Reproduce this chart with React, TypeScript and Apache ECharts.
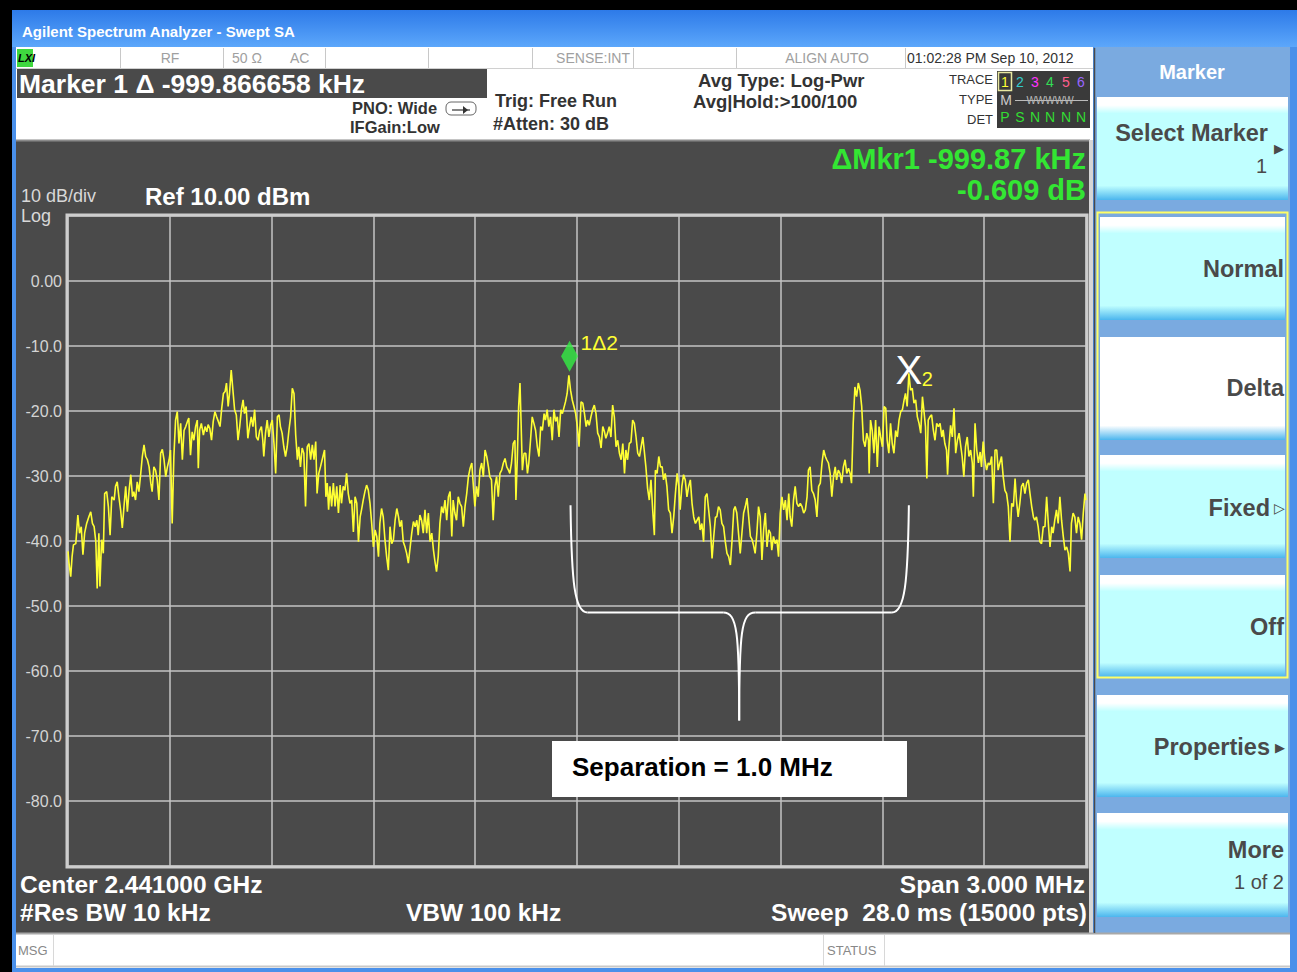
import React, { useEffect, useRef } from "react";
import * as echarts from "echarts";

// ---- data (frequency offset from start in kHz, level in dBm) ----
const SPAN_KHZ = 3000;
const DIV_KHZ = 300;
const REF_DBM = 10;
const BOTTOM_DBM = -90;
const DB_PER_DIV = 10;

const TRACE_A: [number, number][] = [[0,-41.6],[3,-43.4],[8,-45.5],[12,-42.4],[16,-40.6],[23,-40.4],[29,-36],[34,-38.8],[39,-37.8],[44,-42.1],[49,-38.8],[55,-37.3],[62,-36.2],[67,-35.5],[72,-37.3],[77,-37.8],[82,-40.1],[86,-47.3],[91,-38.8],[94,-47],[99,-39.8],[104,-41.9],[108,-32.7],[114,-32.4],[119,-34.7],[124,-39.1],[129,-33.2],[136,-33.7],[140,-31.6],[145,-30.9],[150,-33.2],[155,-35.2],[160,-38],[165,-34.7],[170,-31.6],[175,-35.5],[180,-32.2],[185,-29.8],[190,-33.2],[194,-32.4],[199,-33.7],[204,-30.9],[209,-32.4],[214,-29.8],[219,-27],[224,-25.2],[229,-27],[234,-27.5],[239,-28.6],[244,-31.1],[248,-32.4],[253,-28.6],[258,-29.1],[263,-30.6],[268,-33.7],[273,-26.5],[278,-25.9],[283,-27.5],[288,-30.1],[293,-28.6],[298,-27.5],[302,-26],[307,-37.3],[312,-27],[317,-21.4],[322,-20.1],[327,-25],[332,-21.9],[337,-27.5],[342,-23],[347,-22.4],[352,-21.6],[356,-21.1],[361,-26.8],[366,-23.2],[371,-24.5],[376,-22.4],[381,-21.4],[384,-28.8],[388,-22.9],[393,-21.9],[399,-23.7],[404,-22.4],[409,-23.2],[413,-22.1],[418,-22.7],[423,-24.5],[428,-21.6],[433,-20.1],[438,-20.9],[443,-21.6],[448,-22.4],[453,-19.6],[458,-17.3],[463,-17],[467,-15.7],[472,-19.3],[476,-17.3],[481,-13.7],[486,-16.8],[491,-19.8],[496,-20.6],[501,-24.5],[506,-22.4],[511,-19.8],[516,-18.3],[520,-20.4],[525,-19.3],[530,-24.2],[535,-22.4],[540,-20.9],[545,-22.4],[550,-19.8],[555,-24],[560,-24.5],[565,-23],[570,-22.4],[574,-24.5],[577,-27],[582,-23.4],[587,-21.4],[592,-24],[597,-22.2],[602,-21.4],[607,-25],[612,-29.6],[617,-20.9],[622,-20.6],[626,-22.4],[631,-23.4],[636,-25.5],[641,-27],[646,-25.5],[651,-23],[656,-20.9],[661,-16.5],[666,-17.3],[671,-23.7],[676,-27.5],[680,-25.5],[685,-28.6],[690,-25.7],[695,-26.5],[700,-34.7],[705,-25.5],[710,-25],[715,-27.5],[720,-25.2],[725,-27.5],[730,-24.7],[734,-32.7],[739,-29.6],[744,-28.6],[749,-27.5]];

const TRACE_B: [number, number][] = [[756,-26],[760,-33.2],[764,-31.1],[768,-35.2],[772,-31.6],[777,-34.7],[782,-31.1],[787,-34.7],[792,-31.6],[797,-35.7],[802,-31.4],[806,-34.2],[811,-31.6],[816,-32.2],[821,-29.6],[826,-32.7],[831,-34.2],[836,-33.7],[841,-38.6],[846,-33.2],[851,-34.2],[856,-40.1],[861,-36.3],[865,-35.2],[870,-33.7],[875,-32.4],[880,-31.4],[885,-32.2],[890,-34.2],[895,-37.3],[900,-40.9],[905,-38.3],[910,-39.3],[915,-42.4],[919,-37.3],[924,-35],[929,-36.3],[934,-39.8],[939,-42.4],[944,-44.5],[949,-37.8],[954,-40.4],[959,-39.8],[964,-36.8],[969,-35],[974,-36.3],[978,-37.8],[983,-36.8],[988,-40.1],[993,-40.9],[998,-41.9],[1003,-43.4],[1008,-41.1],[1013,-38.8],[1018,-37],[1023,-37.8],[1028,-36.8],[1032,-39.1],[1037,-36],[1042,-36.8],[1047,-38.8],[1052,-35.2],[1057,-38.8],[1062,-35.7],[1067,-40.1],[1072,-38.8],[1077,-41.4],[1081,-43],[1086,-44.7],[1091,-42.4],[1096,-37.3],[1101,-34.7],[1106,-35.7],[1111,-33.7],[1116,-36.8],[1121,-33.2],[1126,-32.4],[1131,-39.3],[1135,-33.7],[1140,-35.7],[1145,-36.8],[1150,-33.2],[1155,-34.2],[1160,-34.7],[1165,-37.8],[1170,-34.7],[1175,-32.7],[1180,-30.1],[1185,-28.8],[1190,-28],[1194,-31.1],[1199,-34.7],[1204,-31.6],[1209,-33.2],[1214,-29.1],[1219,-28],[1224,-30.1],[1229,-26],[1234,-27],[1239,-28.6],[1243,-30.1],[1248,-30.6],[1253,-36.8],[1258,-31.6],[1263,-30.1],[1268,-33.2],[1273,-29.6],[1278,-29.1],[1283,-28],[1288,-27.3],[1293,-28.6],[1298,-29.1],[1302,-29.6],[1307,-28],[1312,-25],[1317,-24.5],[1320,-33.7],[1324,-27.5],[1328,-19.3],[1332,-15.7],[1335,-21.4],[1339,-29.1],[1344,-26.5],[1349,-26.5],[1354,-29.6],[1358,-28],[1363,-24.5],[1368,-20.9],[1373,-21.9],[1378,-23],[1383,-25.5],[1388,-27],[1393,-22.4],[1398,-23],[1403,-20.4],[1407,-21.4],[1412,-19.8],[1417,-22.4],[1422,-20.9],[1427,-24.5],[1432,-19.8],[1437,-21.6],[1442,-20.9],[1447,-24],[1452,-19.8],[1457,-20.4],[1461,-19.6],[1466,-18.6],[1471,-17.3],[1476,-14.5],[1481,-16.8],[1486,-18.3],[1491,-19.3],[1496,-20.4],[1501,-22.4],[1506,-25.5]];

const TRACE_C: [number, number][] = [[1512,-18.6],[1517,-18.8],[1522,-20.4],[1527,-22.4],[1531,-21.4],[1536,-22.2],[1541,-20.9],[1546,-19.8],[1551,-19.1],[1556,-20.4],[1561,-23.4],[1566,-24],[1571,-25.7],[1576,-22.4],[1581,-23.2],[1585,-24.2],[1590,-23.4],[1595,-22.4],[1600,-24],[1605,-19.1],[1610,-20.9],[1615,-25.5],[1620,-24.5],[1625,-26.5],[1630,-27.5],[1635,-25],[1640,-29.6],[1644,-26],[1649,-27.5],[1654,-25],[1659,-24.8],[1664,-21.4],[1669,-21.9],[1674,-24],[1679,-26.5],[1684,-27],[1689,-25.5],[1694,-24],[1698,-26],[1703,-28.6],[1708,-31.9],[1713,-33.7],[1718,-30.6],[1723,-35.2],[1728,-39.1],[1731,-29.1],[1736,-29.6],[1741,-27],[1746,-28.6],[1751,-28.6],[1755,-30.6],[1760,-29.6],[1765,-31.6],[1770,-35.2],[1775,-35.7],[1780,-38.8],[1785,-36.3],[1790,-32.7],[1795,-29.6],[1800,-31.6],[1804,-35.2],[1809,-31.6],[1814,-29.8],[1819,-30.6],[1824,-33.2],[1829,-31.6],[1834,-30.6],[1839,-34.2],[1844,-36.3],[1849,-37.3],[1854,-36.8],[1859,-36.3],[1863,-38.3],[1868,-37.3],[1873,-40.1],[1878,-33.2],[1883,-32.7],[1888,-35.2],[1893,-37.8],[1898,-42.7],[1903,-39.3],[1908,-36.3],[1912,-36.3],[1917,-34.7],[1922,-35.2],[1927,-37.3],[1932,-37.8],[1937,-40.1],[1942,-41.9],[1947,-42.4],[1952,-43.7],[1957,-39.8],[1962,-35.2],[1966,-34.7],[1971,-35.7],[1976,-38.8],[1981,-41.9],[1986,-38.8],[1991,-35.7],[1996,-34.7],[2001,-33.4],[2006,-36.3],[2011,-39.3],[2016,-39.8],[2020,-40.6],[2025,-41.9],[2030,-38.8],[2035,-34.7],[2040,-36.3],[2045,-42.9],[2050,-38.3],[2055,-35.7],[2060,-40.9],[2065,-38.3],[2070,-38.8],[2074,-41.4],[2079,-39.3],[2084,-40.4],[2089,-39.8],[2094,-42.4],[2099,-35.7],[2104,-33.2],[2109,-35.2],[2114,-33.7],[2119,-36.8],[2124,-32.7],[2128,-36.3],[2133,-37.8],[2138,-33.7],[2143,-31.6],[2148,-34.2],[2153,-34.7],[2158,-34.2],[2163,-34.7],[2168,-35.7],[2173,-35.2],[2178,-33.2],[2182,-29.1],[2187,-28.6],[2192,-32.2],[2197,-32.7],[2202,-33.7],[2207,-36.3],[2212,-31.6],[2217,-31.1],[2222,-28],[2227,-26],[2232,-27],[2236,-27.5],[2241,-28],[2246,-29.6],[2251,-33.2],[2256,-30.1],[2261,-28.6]];

const TRACE_D: [number, number][] = [[2265,-30.6],[2270,-29.1],[2275,-29.6],[2280,-31.1],[2285,-28.6],[2290,-27.5],[2295,-29.6],[2300,-28.8],[2305,-29.6],[2309,-31.1],[2314,-21.9],[2319,-16.3],[2324,-17.8],[2329,-15.7],[2334,-16.8],[2339,-19.3],[2344,-24.5],[2349,-25.5],[2354,-23.4],[2359,-24.5],[2361,-29.6],[2365,-21.4],[2370,-23],[2375,-26.5],[2380,-21.4],[2385,-28.6],[2390,-22.4],[2395,-24],[2400,-25.5],[2405,-19.3],[2410,-19.6],[2414,-24.5],[2419,-26.5],[2424,-21.9],[2429,-25],[2434,-26.5],[2439,-23],[2444,-24],[2449,-21.4],[2454,-20.1],[2459,-19.8],[2464,-18.3],[2468,-17.3],[2473,-19.3],[2478,-14.2],[2483,-16.8],[2488,-16.5],[2493,-18.8],[2498,-18.3],[2503,-20.9],[2508,-21.9],[2513,-23.4],[2518,-17.8],[2522,-19.8],[2527,-22.4],[2531,-30.4],[2535,-21.4],[2540,-20.9],[2545,-20.6],[2550,-22.9],[2555,-24.5],[2560,-21.9],[2565,-22.4],[2570,-21.9],[2575,-24],[2579,-22.9],[2584,-25],[2589,-26],[2592,-29.8],[2596,-25.5],[2601,-22.2],[2606,-24],[2611,-19.6],[2616,-26.5],[2621,-24.5],[2626,-23.4],[2630,-25],[2635,-27],[2640,-30.1],[2645,-25.5],[2650,-24],[2655,-27],[2660,-26],[2665,-28],[2668,-33.2],[2673,-21.9],[2678,-26],[2683,-28],[2688,-26.3],[2692,-28.6],[2697,-24.7],[2702,-27.5],[2707,-29.1],[2712,-28],[2717,-28.3],[2722,-27],[2727,-34.2],[2732,-26],[2737,-26],[2741,-29.1],[2746,-28],[2751,-27],[2756,-30.1],[2761,-32.2],[2766,-32.7],[2771,-34.7],[2776,-40.1],[2781,-34.2],[2786,-34.7],[2791,-30.4],[2795,-33.7],[2800,-36.3],[2805,-34.2],[2810,-31.6],[2815,-31.1],[2820,-32.7],[2825,-31.1],[2830,-30.6],[2835,-32.7],[2840,-34.7],[2845,-36.3],[2849,-36.8],[2854,-36.3],[2859,-37.8],[2864,-40.1],[2869,-40.4],[2874,-37.8],[2879,-37.8],[2884,-33.2],[2889,-37.3],[2894,-40.9],[2899,-37.8],[2903,-38.8],[2908,-36.8],[2913,-35.2],[2918,-37.3],[2923,-33.2],[2928,-36.8],[2933,-39.3],[2938,-41.4],[2943,-40.9],[2948,-41.9],[2953,-44.7],[2957,-37.3],[2962,-35.7],[2967,-36.3],[2972,-38.8],[2977,-36.3],[2982,-37.3],[2987,-39.8],[2992,-35.7],[2997,-32.7],[3000,-33.7]];

const MARKER1: [number, number] = [1478, -14.5];
const MARKER2: [number, number] = [2478, -13.9];

const Y_LABELS: Record<number, string> = {
  0: "0.00", [-10]: "-10.0", [-20]: "-20.0", [-30]: "-30.0", [-40]: "-40.0",
  [-50]: "-50.0", [-60]: "-60.0", [-70]: "-70.0", [-80]: "-80.0",
};

const TITLE = "Agilent Spectrum Analyzer - Swept SA";
const MARKER_READOUT = "Marker 1 \u0394 -999.866658 kHz";
const DELTA_LINE1 = "\u0394Mkr1 -999.87 kHz";
const DELTA_LINE2 = "-0.609 dB";
const SEPARATION = "Separation = 1.0 MHz";

const SANS = '"Liberation Sans", Arial, sans-serif';
const NARROW = '"Liberation Sans Narrow", "Liberation Sans", Arial, sans-serif';

function txt(text: string, x: number, y: number, font: string, fill: string, align = "left", z = 30): any {
  return { type: "text", x, y, z, silent: true, style: { text, font, fill, align, verticalAlign: "middle" } };
}
function rect(x: number, y: number, w: number, h: number, fill: any, z = 1, extra: any = {}): any {
  return { type: "rect", z, silent: true, shape: { x, y, width: w, height: h, ...(extra.r ? { r: extra.r } : {}) }, style: { fill, stroke: extra.stroke, lineWidth: extra.lineWidth || 0 } };
}
function line(x1: number, y1: number, x2: number, y2: number, stroke: string, w = 1, z = 2): any {
  return { type: "line", z, silent: true, shape: { x1, y1, x2, y2 }, style: { stroke, lineWidth: w } };
}

function keyGrad(selected: boolean) {
  const body = selected ? "#ffffff" : "#c0ffff";
  return new echarts.graphic.LinearGradient(0, 0, 0, 1, [
    { offset: 0, color: "#ffffff" },
    { offset: 0.08, color: "#ffffff" },
    { offset: 0.16, color: body },
    { offset: 0.86, color: body },
    { offset: 1, color: "#4cb6ee" },
  ]);
}

export default function App() {
  const ref = useRef<HTMLDivElement>(null);
  useEffect(() => {
    if (!ref.current) return;
    const chart = echarts.init(ref.current, undefined, { renderer: "svg" });
    const trace = [...TRACE_A, ...TRACE_B, ...TRACE_C, ...TRACE_D];
    chart.setOption({
      animation: false,
      backgroundColor: "#000000",
      grid: { left: 68, top: 216, width: 1018, height: 650, containLabel: false },
      xAxis: {
        type: "value", min: 0, max: SPAN_KHZ, interval: DIV_KHZ, z: 3,
        axisLine: { show: false }, axisTick: { show: false }, axisLabel: { show: false },
        splitLine: { show: true, lineStyle: { color: "#c4c4c4", width: 1.5 } },
      },
      yAxis: {
        type: "value", min: BOTTOM_DBM, max: REF_DBM, interval: DB_PER_DIV, z: 3,
        axisLine: { show: false }, axisTick: { show: false },
        axisLabel: {
          formatter: (v: number) => Y_LABELS[v] ?? "",
          color: "#d4d4d4", fontSize: 16, fontFamily: NARROW, margin: 6,
        },
        splitLine: { show: true, lineStyle: { color: "#c4c4c4", width: 1.5 } },
      },
      series: [
        {
          type: "line", data: trace, showSymbol: false, z: 5,
          lineStyle: { color: "#ffff33", width: 1.6 }, silent: true,
        },
        {
          type: "scatter", data: [MARKER1], symbol: "diamond", symbolSize: [17, 31],
          symbolOffset: [0, -19], itemStyle: { color: "#33ee44" }, z: 6, silent: true,
        },
      ],
    });

    const p1 = chart.convertToPixel({ gridIndex: 0 }, MARKER1) as number[];
    const p2 = chart.convertToPixel({ gridIndex: 0 }, MARKER2) as number[];
    const braceTop = chart.convertToPixel({ gridIndex: 0 }, [0, -34.5]) as number[];
    const braceMid = chart.convertToPixel({ gridIndex: 0 }, [0, -51]) as number[];
    const braceTip = chart.convertToPixel({ gridIndex: 0 }, [(MARKER1[0] + MARKER2[0]) / 2, -67.6]) as number[];
    const yT = braceTop[1], yM = braceMid[1], tipX = braceTip[0], yTip = braceTip[1];

    const g: any[] = [];
    // window frame
    g.push(rect(0, 0, 1297, 972, "#4a90ea", 0));
    g.push(rect(0, 0, 1297, 10, "#000000", 0));
    g.push(rect(0, 0, 12, 972, "#000000", 0));
    g.push(rect(12, 10, 1285, 37, new echarts.graphic.LinearGradient(0, 0, 0, 1, [
      { offset: 0, color: "#2d7ae8" }, { offset: 1, color: "#5ca7fb" }]), 0));
    g.push(txt(TITLE, 22, 31, `bold 15px ${SANS}`, "#ffffff"));

    // status row
    g.push(rect(16, 47, 1077, 22, "#ffffff", 1));
    g.push(line(16, 68.5, 1093, 68.5, "#d0d0d0", 1));
    [120, 223, 325, 428, 532, 633, 736, 905].forEach((x) => g.push(line(x + 0.5, 48, x + 0.5, 68, "#c8c8c8", 1)));
    g.push(rect(17, 49, 16, 18, "#3fd83f", 2));
    g.push(txt("LXI", 18, 58, `italic bold 11px ${SANS}`, "#000000"));
    g.push(txt("RF", 170, 58, `14px ${NARROW}`, "#a0a0a0", "center"));
    g.push(txt("50 \u03a9", 232, 58, `14px ${NARROW}`, "#a0a0a0"));
    g.push(txt("AC", 290, 58, `14px ${NARROW}`, "#a0a0a0"));
    g.push(txt("SENSE:INT", 630, 58, `14px ${NARROW}`, "#a0a0a0", "right"));
    g.push(txt("ALIGN AUTO", 869, 58, `14px ${NARROW}`, "#a0a0a0", "right"));
    g.push(txt("01:02:28 PM Sep 10, 2012", 907, 58, `14px ${NARROW}`, "#333333"));

    // info area
    g.push(rect(16, 69, 1077, 72, "#ffffff", 1));
    g.push(rect(17, 69, 470, 29, "#4a4a4a", 2));
    g.push(txt(MARKER_READOUT, 19, 84, `bold 26.5px ${SANS}`, "#ffffff"));
    g.push(txt("PNO: Wide", 352, 108, `bold 16.5px ${NARROW}`, "#333333"));
    g.push(txt("IFGain:Low", 350, 127, `bold 16.5px ${NARROW}`, "#333333"));
    g.push(rect(446, 102, 30, 13, "none", 3, { stroke: "#666666", lineWidth: 1, r: 5 }));
    g.push(line(452, 110, 470, 110, "#333333", 1.2, 4));
    g.push({ type: "polygon", z: 4, silent: true, shape: { points: [[463, 106], [468, 110], [463, 114]] }, style: { fill: "#333333" } });
    g.push(txt("Trig: Free Run", 495, 101, `bold 18px ${NARROW}`, "#333333"));
    g.push(txt("#Atten: 30 dB", 493, 124, `bold 18px ${NARROW}`, "#333333"));
    g.push(txt("Avg Type: Log-Pwr", 698, 80, `bold 18.5px ${NARROW}`, "#333333"));
    g.push(txt("Avg|Hold:>100/100", 693, 101, `bold 18.5px ${NARROW}`, "#333333"));
    g.push(txt("TRACE", 993, 79, `13px ${NARROW}`, "#333333", "right"));
    g.push(txt("TYPE", 993, 99, `13px ${NARROW}`, "#333333", "right"));
    g.push(txt("DET", 993, 119, `13px ${NARROW}`, "#333333", "right"));
    g.push(rect(997, 71, 93, 57, "#3a3a3a", 2));
    g.push(rect(998.5, 72.5, 13, 18, "none", 3, { stroke: "#e8e8a0", lineWidth: 1.5 }));
    const traceCols = ["#ffff33", "#33cccc", "#ff33ff", "#33dd55", "#ff5f8f", "#9966ff"];
    const xs = [1005, 1020, 1035, 1050, 1066, 1081];
    xs.forEach((x, i) => g.push(txt(String(i + 1), x, 82, `14px ${NARROW}`, traceCols[i], "center")));
    g.push(txt("M", 1006, 100, `14px ${NARROW}`, "#cccccc", "center"));
    g.push(txt("WWWWW", 1050, 100, `10px ${NARROW}`, "#bbbbbb", "center"));
    g.push(line(1015, 100.5, 1088, 100.5, "#bbbbbb", 1, 4));
    ["P", "S", "N", "N", "N", "N"].forEach((c, i) => g.push(txt(c, xs[i], 117, `14px ${NARROW}`, "#33dd33", "center")));

    // display area
    g.push(rect(16, 140, 1074, 793, "#4a4a4a", 1));
    g.push(line(16, 140.5, 1090, 140.5, "#8a8a8a", 2, 2));
    g.push(rect(1089, 140, 4, 793, "#d6d6d6", 2));
    g.push(line(1094.5, 48, 1094.5, 933, "#4a4a4a", 1.5, 3));
    g.push(txt(DELTA_LINE1, 1086, 158.5, `bold 29px ${SANS}`, "#33e633", "right"));
    g.push(txt(DELTA_LINE2, 1086, 190, `bold 29px ${SANS}`, "#33e633", "right"));
    g.push(txt("10 dB/div", 21, 196, `18px ${SANS}`, "#d8d8d8"));
    g.push(txt("Log", 21, 216, `18px ${SANS}`, "#d8d8d8"));
    g.push(txt("Ref 10.00 dBm", 145, 196, `bold 24px ${SANS}`, "#ffffff"));
    // plot frame
    g.push(rect(67, 215, 1020, 652, "none", 4, { stroke: "#cdcdcd", lineWidth: 3 }));

    // bottom annotations
    const BF = `bold 24.5px ${NARROW}`;
    g.push(txt("Center 2.441000 GHz", 20, 884, BF, "#ffffff"));
    g.push(txt("Span 3.000 MHz", 1085, 884, BF, "#ffffff", "right"));
    g.push(txt("#Res BW 10 kHz", 20, 912, BF, "#ffffff"));
    g.push(txt("VBW 100 kHz", 406, 912, BF, "#ffffff"));
    g.push(txt("Sweep  28.0 ms (15000 pts)", 1087, 912, BF, "#ffffff", "right"));

    // message bar
    g.push(rect(16, 933, 1274, 35, "#ffffff", 1));
    g.push(line(16, 933.5, 1290, 933.5, "#a8a8a8", 2, 2));
    g.push(line(16, 966.5, 1290, 966.5, "#c8c8c8", 2, 2));
    [53, 823, 884].forEach((x) => g.push(line(x + 0.5, 935, x + 0.5, 966, "#d8d8d8", 1, 2)));
    g.push(txt("MSG", 18, 950, `13px ${NARROW}`, "#888888"));
    g.push(txt("STATUS", 827, 950, `13px ${NARROW}`, "#888888"));

    // softkey panel
    g.push(rect(1095, 47, 195, 886, "#7aaae0", 1));
    g.push(txt("Marker", 1192, 72, `bold 20px ${SANS}`, "#ffffff", "center"));
    const keys: [number, number, boolean][] = [
      [97, 200, false], [217, 320, false], [337, 440, true], [455, 558, false],
      [575, 677, false], [695, 797, false], [813, 917, false],
    ];
    keys.forEach(([y0, y1, sel], i) => {
      const inGroup = i >= 1 && i <= 4;
      const x0 = inGroup ? 1100 : 1097;
      const w = inGroup ? 185 : 191;
      g.push(rect(x0, y0, w, y1 - y0, keyGrad(sel), 2));
    });
    g.push(rect(1097.5, 212.5, 190, 465, "none", 5, { stroke: "#ffff66", lineWidth: 2 }));
    const KF = `bold 23.5px ${SANS}`;
    const KC = "#4a4a4a";
    g.push(txt("Select Marker", 1268, 133, KF, KC, "right"));
    g.push(txt("\u25b6", 1284, 148, `13px ${SANS}`, KC, "right"));
    g.push(txt("1", 1267, 166, `20px ${SANS}`, KC, "right"));
    g.push(txt("Normal", 1284, 269, KF, KC, "right"));
    g.push(txt("Delta", 1284, 388, KF, KC, "right"));
    g.push(txt("Fixed", 1270, 508, KF, KC, "right"));
    g.push(txt("\u25b7", 1285, 508, `14px ${SANS}`, KC, "right"));
    g.push(txt("Off", 1284, 627, KF, KC, "right"));
    g.push(txt("Properties", 1270, 747, KF, KC, "right"));
    g.push(txt("\u25b6", 1285, 747, `13px ${SANS}`, KC, "right"));
    g.push(txt("More", 1284, 850, KF, KC, "right"));
    g.push(txt("1 of 2", 1284, 882, `20px ${SANS}`, KC, "right"));

    // marker labels
    g.push({ type: "text", z: 20, silent: true, x: p1[0] + 9, y: p1[1] - 33,
      style: { text: "1\u03942", font: `21px ${SANS}`, fill: "#ffff33", align: "left", verticalAlign: "middle",
        backgroundColor: "#4a4a4a", padding: [0, 2] } });
    g.push(txt("X", p2[0], p2[1] - 1, `40px ${SANS}`, "#ffffff", "center", 20));
    g.push(txt("2", p2[0] + 13, p2[1] + 8, `20px ${SANS}`, "#ffff33", "left", 20));

    // brace annotation
    const bz = 15;
    const bs = { stroke: "#ffffff", lineWidth: 2, fill: "none" };
    const lx = p1[0] + 1, rx = p2[0];
    g.push({ type: "bezierCurve", z: bz, silent: true, shape: { x1: lx, y1: yT, cpx1: lx + 1, cpy1: yM - 30, cpx2: lx + 4, cpy2: yM, x2: lx + 17, y2: yM }, style: bs });
    g.push({ type: "line", z: bz, silent: true, shape: { x1: lx + 17, y1: yM, x2: tipX - 16, y2: yM }, style: bs });
    g.push({ type: "bezierCurve", z: bz, silent: true, shape: { x1: tipX - 16, y1: yM, cpx1: tipX - 2, cpy1: yM, cpx2: tipX, cpy2: yM + 20, x2: tipX, y2: yTip }, style: bs });
    g.push({ type: "bezierCurve", z: bz, silent: true, shape: { x1: tipX + 16, y1: yM, cpx1: tipX + 2, cpy1: yM, cpx2: tipX, cpy2: yM + 20, x2: tipX, y2: yTip }, style: bs });
    g.push({ type: "line", z: bz, silent: true, shape: { x1: tipX + 16, y1: yM, x2: rx - 17, y2: yM }, style: bs });
    g.push({ type: "bezierCurve", z: bz, silent: true, shape: { x1: rx - 17, y1: yM, cpx1: rx - 4, cpy1: yM, cpx2: rx - 1, cpy2: yM - 30, x2: rx, y2: yT }, style: bs });

    g.push(rect(552, 741, 355, 56, "#ffffff", 12));
    g.push(txt(SEPARATION, 572, 767, `bold 26px ${SANS}`, "#000000", "left", 20));

    chart.setOption({ graphic: { elements: g } });
    return () => chart.dispose();
  }, []);

  return <div ref={ref} style={{ position: "absolute", left: 0, top: 0, width: 1297, height: 972 }} />;
}
